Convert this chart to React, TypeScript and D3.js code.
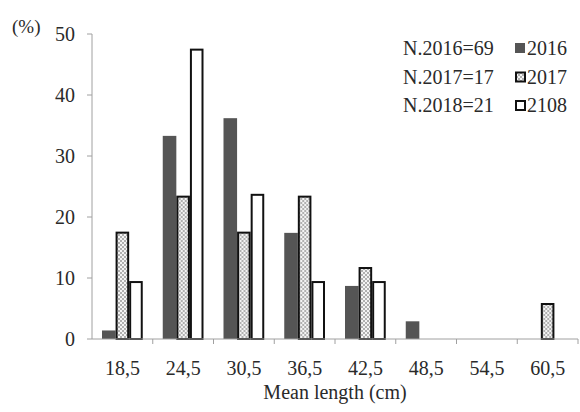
import React from "react";
import * as d3 from "d3";

const categories = ["18,5", "24,5", "30,5", "36,5", "42,5", "48,5", "54,5", "60,5"];
const series = ["2016", "2017", "2108"];
const values2016 = [1.4, 33.3, 36.2, 17.4, 8.7, 2.9, 0, 0];
const values2017 = [17.6, 23.5, 17.6, 23.5, 11.8, 0, 0, 5.9];
const values2018 = [9.5, 47.6, 23.8, 9.5, 9.5, 0, 0, 0];
const sampleLabels = ["N.2016=69", "N.2017=17", "N.2018=21"];
const yTicks = [0, 10, 20, 30, 40, 50];

const W = 580;
const H = 412;
const font = "'Liberation Serif', 'Times New Roman', serif";

export default function App() {
  const x = d3.scaleBand().domain(categories).range([92, 578]).padding(0);
  const inner = d3
    .scaleBand()
    .domain(series)
    .range([10, x.bandwidth() - 10]);
  const y = d3.scaleLinear().domain([0, 50]).range([339, 34]);

  const data = [values2016, values2017, values2018];
  const fills = ["#555555", "url(#check)", "#ffffff"];

  return (
    <div style={{ position: "absolute", left: 0, top: 0 }}>
      <svg width={W} height={H} style={{ display: "block", background: "#fff" }}>
        <defs>
          <pattern id="check" width="4" height="4" patternUnits="userSpaceOnUse">
            <rect width="4" height="4" fill="#f4f4f4" />
            <rect width="2" height="2" fill="#b0b0b0" />
            <rect x="2" y="2" width="2" height="2" fill="#b0b0b0" />
          </pattern>
        </defs>

        {/* y axis */}
        <line x1={92} x2={92} y1={y(50)} y2={y(0)} stroke="#a0a0a0" />
        {yTicks.map((t) => (
          <g key={t}>
            <line x1={87} x2={92} y1={y(t)} y2={y(t)} stroke="#a0a0a0" />
            <text
              x={75}
              y={y(t)}
              dy="0.35em"
              textAnchor="end"
              fontFamily={font}
              fontSize={20}
              fill="#2a2a2a"
            >
              {t}
            </text>
          </g>
        ))}
        <text x={12} y={33} fontFamily={font} fontSize={19} fill="#2a2a2a">
          (%)
        </text>

        {/* bars */}
        {categories.map((c, i) => (
          <g key={c} transform={`translate(${x(c)},0)`}>
            {series.map((s, k) => {
              const v = data[k][i];
              if (v <= 0) return null;
              const bx = inner(s)!;
              const bw = inner.bandwidth();
              if (k === 0) {
                return (
                  <rect
                    key={s}
                    x={bx}
                    y={y(v)}
                    width={bw}
                    height={y(0) - y(v)}
                    fill={fills[k]}
                  />
                );
              }
              return (
                <rect
                  key={s}
                  x={bx + 1}
                  y={y(v) + 1}
                  width={bw - 2}
                  height={y(0) - y(v) - 1}
                  fill={fills[k]}
                  stroke="#111"
                  strokeWidth={2}
                />
              );
            })}
          </g>
        ))}

        {/* x axis */}
        <line x1={92} x2={578} y1={y(0)} y2={y(0)} stroke="#a0a0a0" />
        {categories.map((c) => (
          <line
            key={"t" + c}
            x1={x(c)! + x.bandwidth()}
            x2={x(c)! + x.bandwidth()}
            y1={y(0)}
            y2={y(0) + 5}
            stroke="#a0a0a0"
          />
        ))}
        {categories.map((c) => (
          <text
            key={"l" + c}
            x={x(c)! + x.bandwidth() / 2}
            y={375}
            textAnchor="middle"
            fontFamily={font}
            fontSize={20}
            fill="#2a2a2a"
          >
            {c}
          </text>
        ))}
        <text
          x={335}
          y={399}
          textAnchor="middle"
          fontFamily={font}
          fontSize={20}
          fill="#2a2a2a"
        >
          Mean length (cm)
        </text>

        {/* legend */}
        {series.map((s, k) => {
          const cy = 48 + k * 28.5;
          return (
            <g key={"lg" + s}>
              <text
                x={403}
                y={cy}
                dy="0.35em"
                fontFamily={font}
                fontSize={20}
                fill="#2a2a2a"
              >
                {sampleLabels[k]}
              </text>
              {k === 0 ? (
                <rect x={515} y={cy - 5} width={10} height={10} fill={fills[k]} />
              ) : (
                <rect
                  x={516}
                  y={cy - 4}
                  width={9}
                  height={9}
                  fill={fills[k]}
                  stroke="#111"
                  strokeWidth={2}
                />
              )}
              <text
                x={527}
                y={cy}
                dy="0.35em"
                fontFamily={font}
                fontSize={20}
                fill="#2a2a2a"
              >
                {s}
              </text>
            </g>
          );
        })}
      </svg>
    </div>
  );
}
